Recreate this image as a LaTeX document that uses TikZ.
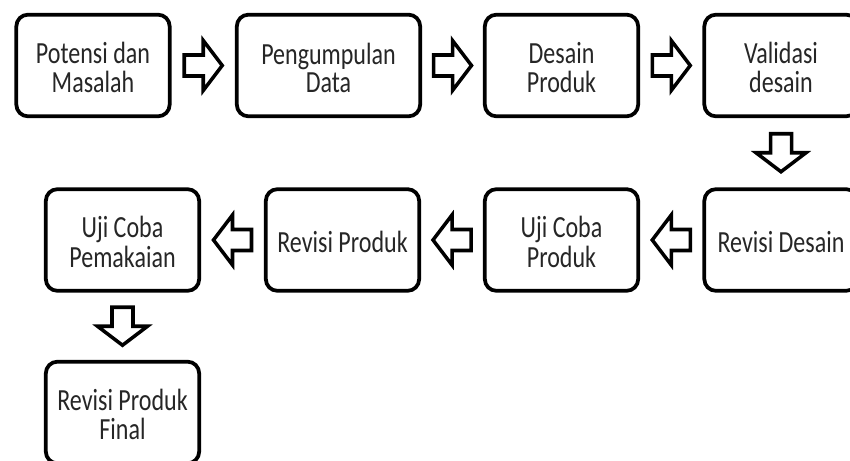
\documentclass[tikz,border=0pt]{standalone}
\usepackage{fontspec}
\usepackage{graphicx}
\setmainfont{Carlito}
\usetikzlibrary{calc}

\tikzset{
  stage/.style={draw,line width=3.2pt,rounded corners=0.35cm,fill=white,
    minimum width=4.6cm,minimum height=3.05cm,align=center,inner sep=2pt,
    text=black!85,font=\fontsize{20.5}{18}\selectfont},
  blockline/.style={draw,line width=3pt,fill=white,line join=miter}
}

% the labels are set a little taller than wide, and sit a bit low
\newcommand{\tallstack}[1]{\raisebox{-0.18cm}[\height][\depth]{%
  \scalebox{1}[1.28]{\begin{tabular}{@{}c@{}}#1\end{tabular}}}}

% block arrow between two node anchors, turned by #3
\newcommand{\blockarrow}[3]{%
  \draw[blockline,shift={($(#1)!0.5!(#2)$)},rotate=#3]
    (-19,-10.5) -- (0,-10.5) -- (0,-25) -- (19,0) -- (0,25) -- (0,10.5) -- (-19,10.5) -- cycle;}

\begin{document}
\begin{tikzpicture}[x=0.03cm,y=-0.03cm]
        \useasboundingbox (0,0) rectangle (850,461);
        \clip (0,0) rectangle (850,461);
        % first row
        \node[stage] (potensi) at (93,65.5) {\tallstack{Potensi dan\\Masalah}};
        \node[stage,minimum width=5.5cm] (data) at (328.5,65.5) {\tallstack{Pengumpulan\\Data}};
        \node[stage] (desain) at (561.5,65.5) {\tallstack{Desain\\Produk}};
        \node[stage] (validasi) at (781,65.5) {\tallstack{Validasi\\desain}};
        % second row
        \node[stage] (revdesain) at (781,240) {\tallstack{Revisi Desain}};
        \node[stage] (ujiproduk) at (561.5,240) {\tallstack{Uji Coba\\Produk}};
        \node[stage] (revproduk) at (342.5,240) {\tallstack{Revisi Produk}};
        \node[stage] (ujipakai) at (122.5,240) {\tallstack{Uji Coba\\Pemakaian}};
        % last one
        \node[stage] (final) at (122.5,412.5) {\tallstack{Revisi Produk\\Final}};
        % arrows
        \blockarrow{potensi.east}{data.west}{0}
        \blockarrow{data.east}{desain.west}{0}
        \blockarrow{desain.east}{validasi.west}{0}
        \blockarrow{validasi.south}{revdesain.north}{-90}
        \blockarrow{revdesain.west}{ujiproduk.east}{180}
        \blockarrow{ujiproduk.west}{revproduk.east}{180}
        \blockarrow{revproduk.west}{ujipakai.east}{180}
        \blockarrow{ujipakai.south}{final.north}{-90}
    \end{tikzpicture}
\end{document}
